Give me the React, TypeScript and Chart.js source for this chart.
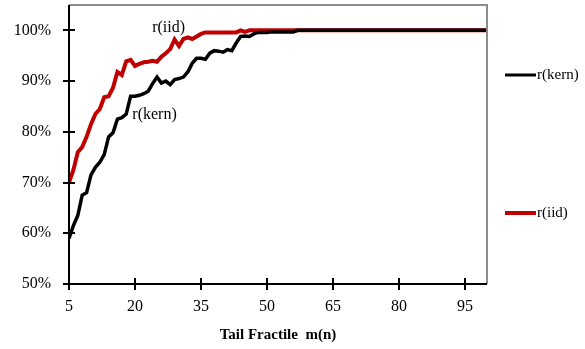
import React, { useEffect, useRef } from "react";
import { Chart, registerables } from "chart.js";

Chart.register(...registerables);

const fractiles: number[] = Array.from({ length: 96 }, (_, i) => i + 5);

const kernHead: number[] = [
  59, 61.5, 63.5, 67.5, 68, 71.5, 73, 74, 75.5, 79, 79.8, 82.5, 82.8, 83.5, 87, 87,
  87.2, 87.5, 88, 89.5, 90.8, 89.6, 90, 89.3, 90.3, 90.5, 90.8, 91.8, 93.5, 94.5, 94.5,
  94.3, 95.5, 96, 95.9, 95.7, 96.2, 96, 97.5, 98.8, 98.9, 98.8, 99.3, 99.6, 99.6, 99.6,
  99.7, 99.7, 99.7, 99.7, 99.7, 99.7,
];
const iidHead: number[] = [
  70, 72.5, 76, 77, 79, 81.5, 83.5, 84.5, 86.8, 87, 88.7, 91.8, 91.2, 93.9, 94.2, 93,
  93.4, 93.7, 93.8, 94, 93.8, 94.8, 95.5, 96.3, 98.2, 96.9, 98.3, 98.6, 98.3, 98.8, 99.3,
  99.6, 99.6, 99.6, 99.6, 99.6, 99.6, 99.6, 99.6, 100, 99.7,
];
const rKern: number[] = fractiles.map((_, i) => (i < kernHead.length ? kernHead[i] : 100));
const rIid: number[] = fractiles.map((_, i) => (i < iidHead.length ? iidHead[i] : 100));

const xTicks: number[] = [5, 20, 35, 50, 65, 80, 95];
const yTicks: number[] = [50, 60, 70, 80, 90, 100];
const seriesLabels = ["r(kern)", "r(iid)"];
const xTitle = "Tail Fractile  m(n)";

const FONT = "'Liberation Serif', 'Times New Roman', serif";

const overlay = {
  id: "overlay",
  afterDraw(chart: any) {
    const { ctx, chartArea, scales } = chart;
    const xs = scales.x;
    const ys = scales.y;
    ctx.save();
    ctx.strokeStyle = "#8c8c8c";
    ctx.lineWidth = 2;
    ctx.beginPath();
    ctx.moveTo(chartArea.left, chartArea.top);
    ctx.lineTo(chartArea.right, chartArea.top);
    ctx.lineTo(chartArea.right, chartArea.bottom);
    ctx.stroke();
    ctx.strokeStyle = "#000";
    ctx.lineWidth = 2;
    ctx.beginPath();
    ctx.moveTo(chartArea.left, chartArea.top);
    ctx.lineTo(chartArea.left, chartArea.bottom);
    ctx.lineTo(chartArea.right, chartArea.bottom);
    ctx.stroke();
    ctx.beginPath();
    yTicks.forEach((v) => {
      const y = Math.round(ys.getPixelForValue(v));
      ctx.moveTo(chartArea.left - 6, y);
      ctx.lineTo(chartArea.left + 6, y);
    });
    xTicks.forEach((v) => {
      const x = Math.round(xs.getPixelForValue(v));
      ctx.moveTo(x, chartArea.bottom - 6);
      ctx.lineTo(x, chartArea.bottom + 6);
    });
    ctx.stroke();
    ctx.fillStyle = "#000";
    ctx.font = `16px ${FONT}`;
    ctx.textAlign = "left";
    ctx.textBaseline = "middle";
    ctx.fillText(seriesLabels[1], xs.getPixelForValue(23.9), ys.getPixelForValue(100.6));
    ctx.fillText(seriesLabels[0], xs.getPixelForValue(19.4), ys.getPixelForValue(83.3));
    const ds = chart.data.datasets;
    const legendY = [75, 213];
    ctx.font = `15px ${FONT}`;
    ds.forEach((d: any, i: number) => {
      ctx.strokeStyle = d.borderColor;
      ctx.lineWidth = i === 0 ? 3 : 4;
      ctx.beginPath();
      ctx.moveTo(505, legendY[i]);
      ctx.lineTo(536, legendY[i]);
      ctx.stroke();
      ctx.fillStyle = "#000";
      ctx.fillText(d.label, 537, legendY[i]);
    });
    ctx.restore();
  },
};

export default function App() {
  const ref = useRef<HTMLCanvasElement | null>(null);
  useEffect(() => {
    document.body.style.margin = "0";
    if (!ref.current) return;
    const chart = new Chart(ref.current, {
      type: "line",
      data: {
        labels: fractiles,
        datasets: [
          {
            label: seriesLabels[0],
            data: fractiles.map((x, i) => ({ x, y: rKern[i] })),
            borderColor: "#000000",
            borderWidth: 3.5,
            pointRadius: 0,
            tension: 0,
          },
          {
            label: seriesLabels[1],
            data: fractiles.map((x, i) => ({ x, y: rIid[i] })),
            borderColor: "#c00000",
            borderWidth: 4,
            pointRadius: 0,
            tension: 0,
          },
        ],
      },
      plugins: [overlay],
      options: {
        responsive: false,
        animation: false,
        events: [],
        layout: { padding: { left: 0, top: 5, right: 98, bottom: 0 } },
        plugins: { legend: { display: false }, tooltip: { enabled: false } },
        scales: {
          x: {
            type: "linear",
            min: 5,
            max: 100,
            afterBuildTicks: (s: any) => {
              s.ticks = xTicks.map((v) => ({ value: v }));
            },
            afterFit: (s: any) => {
              s.height = 65;
              s.paddingLeft = 0;
              s.paddingRight = 0;
            },
            grid: { display: false },
            border: { display: false },
            ticks: {
              color: "#000",
              font: { family: FONT, size: 16 },
              padding: 5,
              maxRotation: 0,
              autoSkip: false,
            },
            title: {
              display: true,
              text: xTitle,
              color: "#000",
              font: { family: FONT, size: 15, weight: "bold" },
              padding: { top: 6, bottom: 5 },
            },
          },
          y: {
            type: "linear",
            min: 50,
            max: 105,
            afterBuildTicks: (s: any) => {
              s.ticks = yTicks.map((v) => ({ value: v }));
            },
            afterFit: (s: any) => {
              s.width = 69;
              s.paddingTop = 0;
              s.paddingBottom = 0;
            },
            grid: { display: false },
            border: { display: false },
            ticks: {
              color: "#000",
              font: { family: FONT, size: 16 },
              padding: 10,
              callback: (v: any) => `${v}%`,
            },
          },
        },
      },
    });
    return () => chart.destroy();
  }, []);
  return (
    <div style={{ position: "absolute", left: 0, top: 0, width: 585, height: 349 }}>
      <canvas ref={ref} width={585} height={349} />
    </div>
  );
}
